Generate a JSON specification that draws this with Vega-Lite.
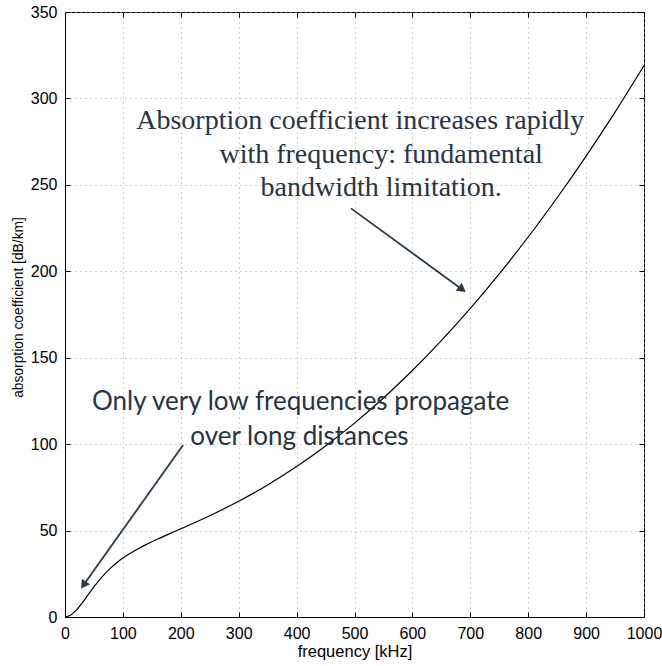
{
  "$schema": "https://vega.github.io/schema/vega-lite/v6.json",
  "autosize": "none",
  "width": 579,
  "height": 605,
  "padding": {"left": 65, "top": 12, "right": 18, "bottom": 49},
  "background": "white",
  "config": {
    "view": {"stroke": "black", "strokeWidth": 1},
    "axis": {
      "labelFont": "Liberation Sans",
      "labelFontSize": 16,
      "labelColor": "black",
      "titleFont": "Liberation Sans",
      "titleFontWeight": "normal",
      "titleColor": "black",
      "domainColor": "black",
      "tickColor": "black",
      "gridColor": "#a8a8a8",
      "gridDash": [1, 4],
      "gridWidth": 1
    }
  },
  "datasets": {
    "curve": [
      {"f": 0, "a": 0.0},
      {"f": 10, "a": 1.19},
      {"f": 20, "a": 4.13},
      {"f": 30, "a": 8.28},
      {"f": 40, "a": 12.9},
      {"f": 50, "a": 17.47},
      {"f": 60, "a": 21.67},
      {"f": 70, "a": 25.41},
      {"f": 80, "a": 28.69},
      {"f": 90, "a": 31.55},
      {"f": 100, "a": 34.07},
      {"f": 120, "a": 38.32},
      {"f": 140, "a": 41.89},
      {"f": 160, "a": 45.08},
      {"f": 180, "a": 48.08},
      {"f": 200, "a": 51.02},
      {"f": 250, "a": 58.59},
      {"f": 300, "a": 66.94},
      {"f": 350, "a": 76.38},
      {"f": 400, "a": 87.01},
      {"f": 450, "a": 98.93},
      {"f": 500, "a": 112.15},
      {"f": 550, "a": 126.71},
      {"f": 600, "a": 142.61},
      {"f": 650, "a": 159.88},
      {"f": 700, "a": 178.49},
      {"f": 750, "a": 198.48},
      {"f": 800, "a": 219.83},
      {"f": 850, "a": 242.55},
      {"f": 900, "a": 266.64},
      {"f": 950, "a": 292.1},
      {"f": 1000, "a": 318.93}
    ],
    "arrows": [
      {"x1": 494, "y1": 236.4, "x2": 686, "y2": 189.5, "hx": 686, "hy": 189.5, "angle": 127},
      {"x1": 204, "y1": 99.5, "x2": 32, "y2": 18.5, "hx": 32, "hy": 18.5, "angle": 214}
    ],
    "serifNote": [
      {"x": 510, "y": 287, "text": "Absorption coefficient increases rapidly"},
      {"x": 546, "y": 267.5, "text": "with frequency: fundamental"},
      {"x": 546, "y": 248.2, "text": "bandwidth limitation."}
    ],
    "sansNote": [
      {"x": 407, "y": 124.4, "text": "Only very low frequencies propagate"},
      {"x": 405, "y": 104.1, "text": "over long distances"}
    ]
  },
  "resolve": {"axis": {"x": "independent", "y": "independent"}},
  "layer": [
    {
      "data": {"name": "curve"},
      "mark": {"type": "line", "color": "black", "strokeWidth": 1.2, "interpolate": "monotone"},
      "encoding": {
        "x": {
          "field": "f", "type": "quantitative",
          "scale": {"domain": [0, 1000], "nice": false},
          "axis": {"title": "frequency [kHz]", "titleFontSize": 16.5, "format": "d", "values": [0,100,200,300,400,500,600,700,800,900,1000], "tickSize": -5, "labelPadding": 13, "titlePadding": 2, "labelFlush": false}
        },
        "y": {
          "field": "a", "type": "quantitative",
          "scale": {"domain": [0, 350], "nice": false},
          "axis": {"title": "absorption coefficient [dB/km]", "titleFontSize": 13.8, "titleY": 295, "values": [0,50,100,150,200,250,300,350], "tickSize": -5, "labelPadding": 13, "titlePadding": 5, "labelFlush": false}
        }
      }
    },
    {
      "data": {"name": "arrows"},
      "mark": {"type": "rule", "color": "#2b3a48", "strokeWidth": 1.8},
      "encoding": {
        "x": {"field": "x1", "type": "quantitative", "axis": {"orient": "top", "labels": false, "title": null, "domain": false, "grid": false, "tickSize": -5, "values": [0,100,200,300,400,500,600,700,800,900,1000]}},
        "y": {"field": "y1", "type": "quantitative", "axis": {"orient": "right", "labels": false, "title": null, "domain": false, "grid": false, "tickSize": -5, "values": [0,50,100,150,200,250,300,350]}},
        "x2": {"field": "x2"},
        "y2": {"field": "y2"}
      }
    },
    {
      "data": {"name": "arrows"},
      "mark": {"type": "point", "shape": "triangle-up", "filled": true, "color": "#2b3a48", "size": 100, "opacity": 1},
      "encoding": {
        "x": {"field": "hx", "type": "quantitative", "axis": null},
        "y": {"field": "hy", "type": "quantitative", "axis": null},
        "angle": {"field": "angle", "type": "quantitative", "scale": null}
      }
    },
    {
      "data": {"name": "serifNote"},
      "mark": {"type": "text", "font": "Liberation Serif", "fontSize": 28, "color": "#263545", "align": "center", "baseline": "middle"},
      "encoding": {
        "x": {"field": "x", "type": "quantitative", "axis": null},
        "y": {"field": "y", "type": "quantitative", "axis": null},
        "text": {"field": "text"}
      }
    },
    {
      "data": {"name": "sansNote"},
      "mark": {"type": "text", "font": "Lato", "fontSize": 26, "color": "#263545", "align": "center", "baseline": "middle"},
      "encoding": {
        "x": {"field": "x", "type": "quantitative", "axis": null},
        "y": {"field": "y", "type": "quantitative", "axis": null},
        "text": {"field": "text"}
      }
    }
  ]
}
